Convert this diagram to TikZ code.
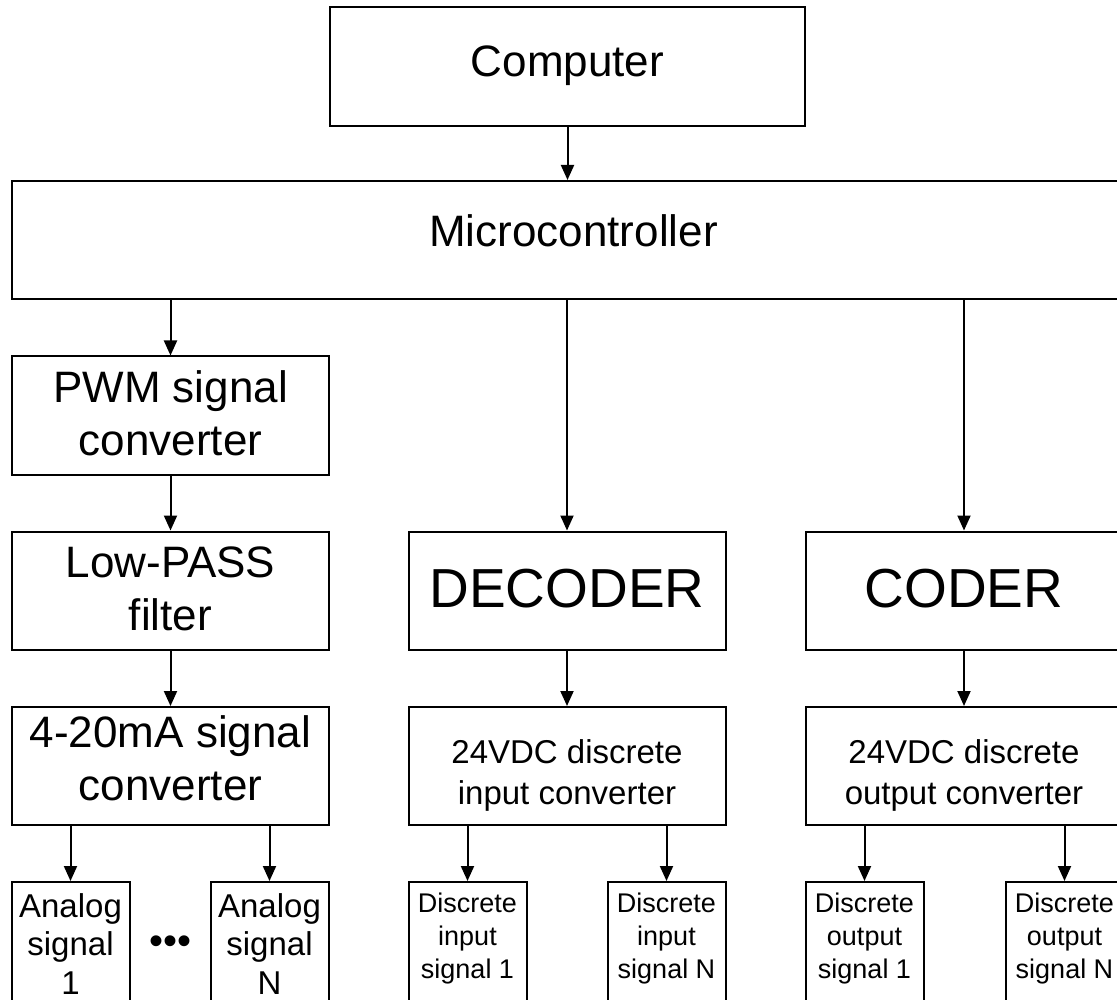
\documentclass[tikz,border=0pt]{standalone}
\usepackage{fontspec}
\setmainfont{Liberation Sans}
\usetikzlibrary{arrows.meta,positioning}

\begin{document}
\begin{tikzpicture}[x=1pt,y=-1pt,
        block/.style={draw,line width=2pt,minimum width=317pt,minimum height=118pt,
            align=center,inner sep=0pt,text depth=4pt,font=\fontsize{44}{53}\selectfont},
        bigword/.style={font=\fontsize{55}{66}\selectfont},
        conv/.style={text height=83pt,text depth=7pt,font=\fontsize{33}{41}\selectfont},
        sigbox/.style={draw,line width=2pt,minimum width=118pt,anchor=north,align=center,
            inner xsep=0pt,inner ysep=5pt,text depth=40pt},
        analog/.style={sigbox,text height=107pt,font=\fontsize{33}{38.5}\selectfont},
        discrete/.style={sigbox,text height=91pt,font=\fontsize{27}{33}\selectfont},
        arr/.style={-{Triangle[length=15pt,width=13pt]},line width=2pt}]
    \useasboundingbox (0,0) rectangle (1117,1000);
    % top
    \node[block,minimum width=475pt,minimum height=119pt,text depth=10pt] (comp) at (567.5,66.5) {Computer};
    \node[block,minimum width=1123pt,text depth=19pt] (mcu) at (573.5,240) {Microcontroller};
    % analog branch
    \node[block] (pwm) at (170.5,415.5) {PWM signal\\converter};
    \node[block] (lpf) at (170.5,590.5) {Low-PASS\\filter};
    \node[block,text depth=15pt] (cur) at (170.5,766) {4-20mA signal\\converter};
    \node[analog] (ai1) at (70.5,881) {Analog\\signal\\1};
    \node[analog] (aiN) at (269.5,881) {Analog\\signal\\N};
    \node[font=\fontsize{40}{40}\selectfont] (dots) at (171,945) {\textbullet\textbullet\textbullet};
    % discrete branches
    \node[block,bigword] (dec) at (567,590.5) {DECODER};
    \node[block,bigword] (cod) at (964,590.5) {CODER};
    \node[block,conv] (din) at (567,766) {24VDC discrete\\input converter};
    \node[block,conv] (dout) at (964,766) {24VDC discrete\\output converter};
    \node[discrete] (di1) at (467.5,881) {Discrete\\input\\signal 1};
    \node[discrete] (diN) at (666.5,881) {Discrete\\input\\signal N};
    \node[discrete] (do1) at (864.5,881) {Discrete\\output\\signal 1};
    \node[discrete] (doN) at (1064.5,881) {Discrete\\output\\signal N};
    % connectors
    \draw[arr] (comp.south) -- (comp.south |- mcu.north);
    \foreach \n in {pwm,dec,cod}
        \draw[arr] (mcu.south -| \n.north) -- (\n.north);
    \foreach \a/\b in {pwm/lpf,lpf/cur}
        \draw[arr] (\a) -- (\b);
    \draw[arr] (dec.south) -- (din.north -| dec.south);
    \draw[arr] (cod.south) -- (dout.north -| cod.south);
    \foreach \a/\b in {cur/ai1,cur/aiN,din/di1,din/diN,dout/do1,dout/doN}
        \draw[arr] (\a.south -| \b.north) -- (\b.north);
\end{tikzpicture}
\end{document}
